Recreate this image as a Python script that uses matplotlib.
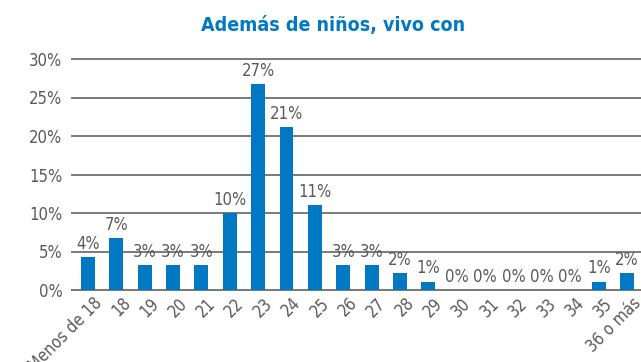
import matplotlib
matplotlib.use("Agg")
import matplotlib.pyplot as plt
from matplotlib.transforms import ScaledTranslation

categories = ["Menos de 18", "18", "19", "20", "21", "22", "23", "24", "25",
              "26", "27", "28", "29", "30", "31", "32", "33", "34", "35", "36 o más"]
values = [4.3, 6.7, 3.2, 3.2, 3.2, 10.0, 26.7, 21.2, 11.0,
          3.2, 3.2, 2.2, 1.1, 0.0, 0.0, 0.0, 0.0, 0.0, 1.1, 2.2]
y_ticks = [0, 5, 10, 15, 20, 25, 30]
title = "Además de niños, vivo con"

plt.rcParams["font.family"] = ["DejaVu Sans"]
plt.rcParams["font.stretch"] = "condensed"

BLUE = "#0079c2"
GRID = "#7a7a7a"
TEXT = "#5a5a5a"
FS = 12

fig = plt.figure(figsize=(6.41, 3.62), dpi=100)
ax = fig.add_axes([72 / 641, 72 / 362, 1 - 72 / 641, (303 - 72) / 362])

x = list(range(len(categories)))
ax.bar(x, values, width=0.49, color=BLUE, zorder=3)

for xi, v in zip(x, values):
    ax.annotate(f"{v:.0f}%", (xi, v), xytext=(0, 3), textcoords="offset points",
                ha="center", va="bottom", fontsize=FS, color=TEXT,
                fontstretch="condensed", zorder=4)

ax.set_ylim(0, 30)
ax.set_xlim(-0.56, len(categories) - 0.51)
ax.set_yticks(y_ticks)
ax.set_yticklabels([f"{t}%" for t in y_ticks], fontsize=FS, color=TEXT,
                   fontstretch="condensed")
ax.yaxis.grid(True, color=GRID, linewidth=1.4, zorder=0)
for gl in ax.get_ygridlines():
    gl.set_clip_on(False)
ax.set_axisbelow(True)
ax.tick_params(axis="y", length=0, pad=7)
ax.tick_params(axis="x", length=0, pad=3)

ax.set_xticks(x)
ax.set_xticklabels(categories, rotation=45, ha="right", va="top",
                   rotation_mode="anchor", fontsize=FS, color=TEXT,
                   fontstretch="condensed")
shift = ScaledTranslation(5 / 100, 0, fig.dpi_scale_trans)
for lbl in ax.get_xticklabels():
    lbl.set_transform(lbl.get_transform() + shift)

for side in ("top", "right", "left"):
    ax.spines[side].set_visible(False)
ax.spines["bottom"].set_color(GRID)
ax.spines["bottom"].set_linewidth(1.4)

fig.text(333 / 641, 1 - 25 / 362, title, ha="center", va="center",
         fontsize=14, fontweight="bold", fontstretch="condensed", color=BLUE)

fig.savefig("out.png", dpi=100)
